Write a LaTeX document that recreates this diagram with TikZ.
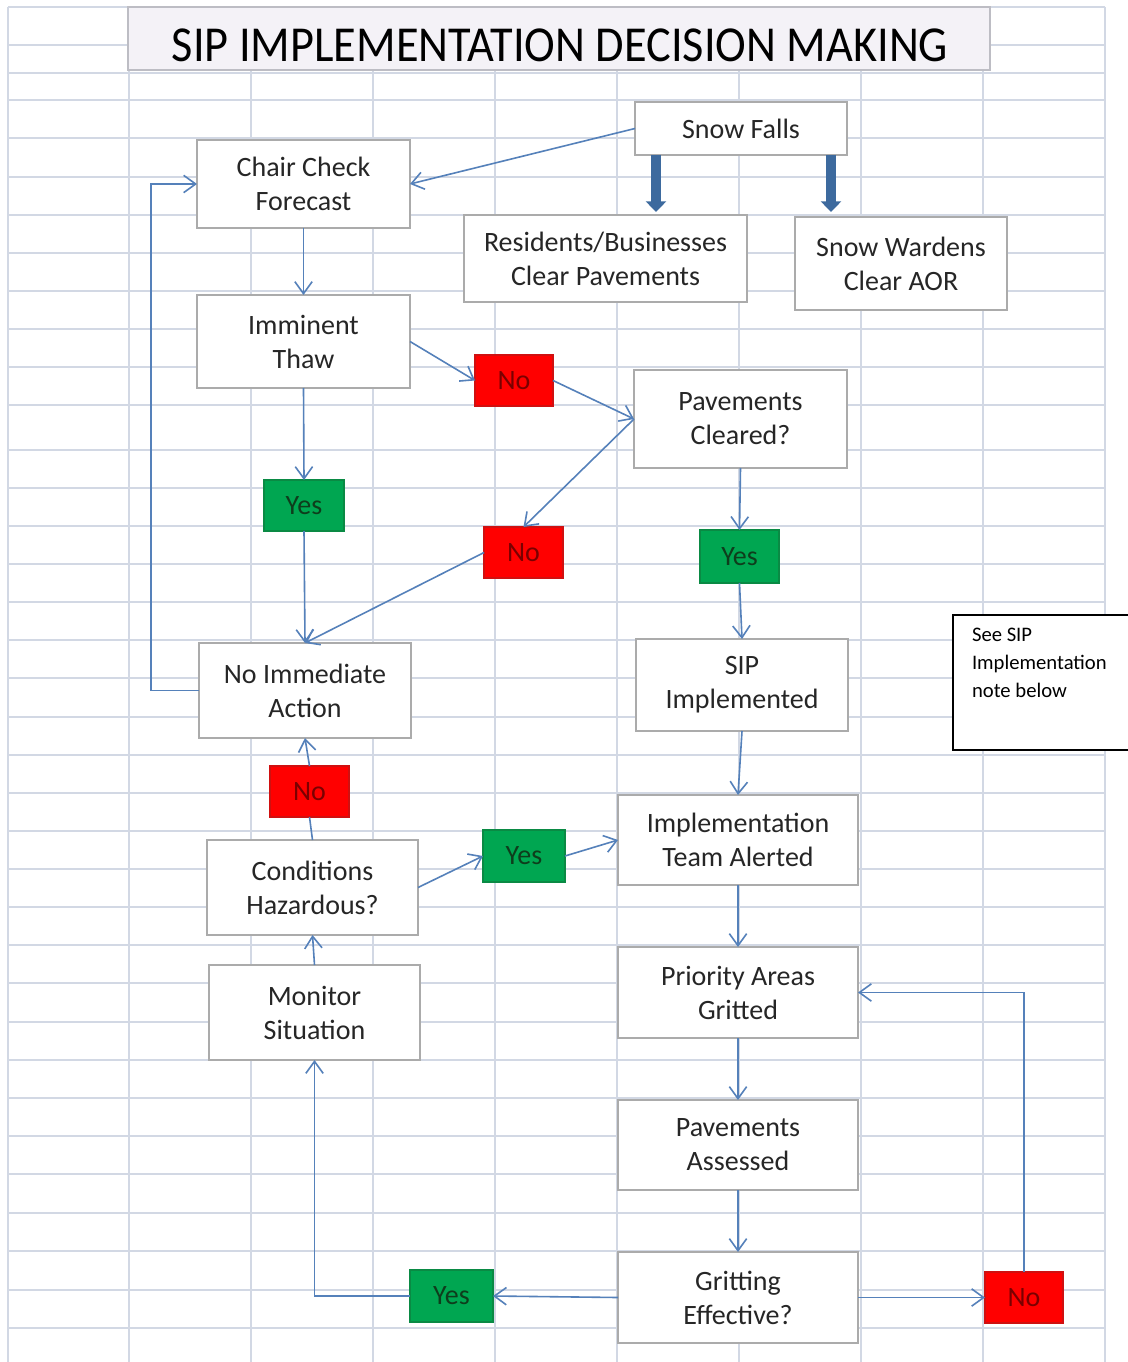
\documentclass[tikz,border=0pt]{standalone}
\usepackage{fontspec}
\setmainfont{Carlito}
\usepackage{graphicx}
\usetikzlibrary{arrows.meta,calc}
\definecolor{gridcol}{HTML}{D2D8E4}
\definecolor{boxline}{HTML}{ABABAB}
\definecolor{conncol}{HTML}{5581BA}
\definecolor{fatblue}{HTML}{3D6A9E}
\definecolor{redfill}{HTML}{FF0000}
\definecolor{redline}{HTML}{D01010}
\definecolor{redtext}{HTML}{7A0000}
\definecolor{greenfill}{HTML}{00A651}
\definecolor{greenline}{HTML}{0A8A44}
\definecolor{greentext}{HTML}{0E3D1C}
\definecolor{titlefill}{HTML}{F4F2F7}
\definecolor{titleline}{HTML}{BDBDC4}
\definecolor{boxtext}{HTML}{262626}
\begin{document}
\begin{tikzpicture}[x=0.75pt,y=-0.75pt,
  every node/.style={inner sep=0pt, outer sep=0pt},
  gridline/.style={draw=gridcol, line width=1.1pt},
  box/.style={draw=boxline, line width=1.1pt, fill=white, align=center,
    font=\fontsize{21}{25.5}\selectfont, text=boxtext},
  rbox/.style={draw=redline, line width=0.9pt, fill=redfill,
    font=\fontsize{21}{25.5}\selectfont, text=redtext},
  gbox/.style={draw=greenline, line width=0.9pt, fill=greenfill,
    font=\fontsize{21}{25.5}\selectfont, text=greentext},
  conn/.style={draw=conncol, line width=1.2pt, -{Straight Barb[length=9pt,width=13pt,line width=1.2pt]}},
  plainline/.style={draw=conncol, line width=1.2pt},
  fat/.style={draw=fatblue, line width=7.5pt, -{Triangle[length=8pt,width=15pt]}}
]
\useasboundingbox (0,0) rectangle (1127,1362);
\fill[white] (0,0) rectangle (1127,1362);
% spreadsheet grid
\foreach \x in {8,129,251,373,495,617,739,861,983,1105}
  \draw[gridline] (\x,7) -- (\x,1362);
\foreach \y in {7,45,73,100,138,177,215,253,291,329,367,405,450,488,526,564,602,640,678,717,755,793,831,869,907,945,983,1022,1060,1098,1136,1174,1213,1251,1290,1328}
  \draw[gridline] (8,\y) -- (1105,\y);

% title
\node[draw=titleline, line width=1.1pt, fill=titlefill, minimum width=646.5pt, minimum height=47.25pt] (title) at (559,38.5) {};
\node[text=black] (titletext) at (560,45.5) {\resizebox{582pt}{24.5pt}{SIP IMPLEMENTATION DECISION MAKING}};

% boxes
\node[box, minimum width=159pt, minimum height=39.75pt] (sf) at (741,128.5) {Snow Falls};
\node[box, minimum width=159.75pt, minimum height=66pt] (cc) at (303.5,184) {Chair Check\\Forecast};
\node[box, minimum width=212.25pt, minimum height=65.25pt] (res) at (605.5,258.5) {Residents/Businesses\\Clear Pavements};
\node[box, minimum width=159pt, minimum height=69.75pt] (sw) at (901,263.5) {Snow Wardens\\Clear AOR};
\node[box, minimum width=159.75pt, minimum height=69.75pt] (it) at (303.5,341.5) {Imminent\\Thaw};
\node[rbox, minimum width=58.5pt, minimum height=38.25pt] (no1) at (514,380.5) {No};
\node[box, minimum width=159.75pt, minimum height=73.5pt] (pc) at (740.5,419) {Pavements\\Cleared?};
\node[gbox, minimum width=60pt, minimum height=38.25pt] (y1) at (304,505.5) {Yes};
\node[rbox, minimum width=59.25pt, minimum height=38.25pt] (no2) at (523.5,552.5) {No};
\node[gbox, minimum width=59.25pt, minimum height=39.75pt] (y2) at (739.5,556.5) {Yes};
\node[box, minimum width=159pt, minimum height=71.25pt] (nia) at (305,690.5) {No Immediate\\Action};
\node[box, minimum width=159pt, minimum height=69pt] (sip) at (742,685) {SIP\\Implemented};
\node[rbox, minimum width=59.25pt, minimum height=38.25pt] (no3) at (309.5,791.5) {No};
\node[box, minimum width=158.25pt, minimum height=71.25pt] (ch) at (312.5,887.5) {Conditions\\Hazardous?};
\node[gbox, minimum width=61.5pt, minimum height=39pt] (y3) at (524,856) {Yes};
\node[box, minimum width=180pt, minimum height=67.5pt] (itm) at (738,840) {Implementation\\Team Alerted};
\node[box, minimum width=158.25pt, minimum height=71.25pt] (mon) at (314.5,1012.5) {Monitor\\Situation};
\node[box, minimum width=180pt, minimum height=68.25pt] (pri) at (738,992.5) {Priority Areas\\Gritted};
\node[box, minimum width=180pt, minimum height=67.5pt] (pa) at (738,1145) {Pavements\\Assessed};
\node[box, minimum width=180pt, minimum height=68.25pt] (ge) at (738,1297.5) {Gritting\\Effective?};
\node[gbox, minimum width=62.25pt, minimum height=39pt] (y4) at (451.5,1296) {Yes};
\node[rbox, minimum width=58.5pt, minimum height=38.25pt] (no4) at (1024,1297.5) {No};

% note box (runs off the right edge)
\node[draw=black, line width=1.1pt, fill=white, minimum width=142.5pt, minimum height=101.25pt, anchor=north west] (notebox) at (953,615) {};
\node[align=left, anchor=north west, font=\fontsize{15.5}{21}\selectfont, text=black] (note) at (972,628) {See SIP\\Implementation\\note below};

% thick arrows
\draw[fat] ($(sf.south west)+(21,0)$) -- ($(res.north west)+(192,-3)$);
\draw[fat] ($(sf.south west)+(196,0)$) -- ($(sw.north west)+(36,-5)$);

% connectors
\draw[conn] (sf.west) -- (cc.east);
\draw[conn] (cc.south) -- (it.north);
\draw[conn] (it.east) -- (no1.west);
\draw[conn] (no1.east) -- (pc.west);
\draw[conn] (pc.west) -- (no2.north);
\draw[conn] (it.south) -- (y1.north);
\draw[conn] (y1.south) -- (nia.north);
\draw[conn] (no2.west) -- (nia.north);
\draw[conn] (pc.south) -- (y2.north);
\draw[conn] (y2.south) -- (sip.north);
\coordinate (loopc) at (151,690.5);
\draw[conn] (nia.west) -- (loopc) |- (cc.west);
\draw[conn] (sip.south) -- (itm.north);
\draw[plainline] (ch.north) -- (no3.south);
\draw[conn] (no3.north) -- (nia.south);
\draw[conn] (ch.east) -- (y3.west);
\draw[conn] (y3.east) -- (itm.west);
\draw[conn] (itm.south) -- (pri.north);
\draw[conn] (pri.south) -- (pa.north);
\draw[conn] (pa.south) -- (ge.north);
\draw[conn] (mon.north) -- (ch.south);
\draw[conn] (ge.west) -- (y4.east);
\draw[conn] (y4.west) -| (mon.south);
\draw[conn] (ge.east) -- (no4.west);
\draw[conn] (no4.north) |- (pri.east);
\end{tikzpicture}
\end{document}
